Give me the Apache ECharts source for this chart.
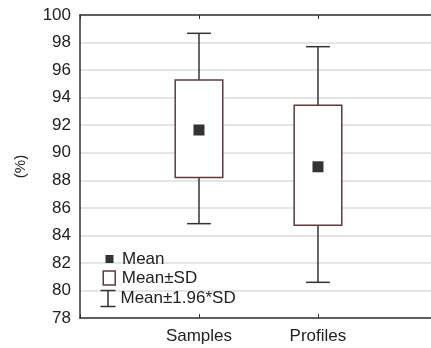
<!DOCTYPE html>
<html>
<head>
<meta charset="utf-8">
<script src="https://cdn.jsdelivr.net/npm/echarts@6/dist/echarts.min.js"></script>
<style>
  html, body { margin: 0; padding: 0; background: #fff; }
  #chart { width: 431px; height: 348px; }
</style>
</head>
<body>
<div id="chart"></div>
<script>
// Group names and their positions on the x axis
const categories = ['Samples', 'Profiles'];
const positions = [1, 2];

// Summary statistics (%)
const means      = [91.65, 88.98];
const sdLow      = [88.21, 84.73];
const sdHigh     = [95.28, 93.44];
const ciLow      = [84.85, 80.59];
const ciHigh     = [98.67, 97.70];

// Y-axis scale
const yMin = 78, yMax = 100, yStep = 2;

const FONT = 'Liberation Sans, Arial, sans-serif';
const TEXT = '#222';
const BOX_EDGE = '#5c3b3f';
const WHISKER = '#333';

const chart = echarts.init(document.getElementById('chart'), null, { renderer: 'canvas' });

const whiskerData = positions.map((p, i) => [p, ciLow[i], sdLow[i], sdHigh[i], ciHigh[i]]);
const boxData = positions.map((p, i) => [p, sdLow[i], sdHigh[i]]);
const meanData = positions.map((p, i) => [p, means[i]]);

const BOX_HALF = 0.2;   // half box width in x units
const CAP_HALF = 0.1;   // half whisker-cap width in x units
const X_MAX = 2.95;     // the frame runs on past the right edge of the canvas

const option = {
  animation: false,
  textStyle: { fontFamily: FONT },
  grid: { left: 80, top: 15, right: 0, height: 303, containLabel: false },
  xAxis: [
    {
      type: 'value', min: 0, max: X_MAX, interval: 1, position: 'bottom',
      axisLine: { lineStyle: { color: '#333', width: 1.5 } },
      axisTick: { inside: true, length: 4, lineStyle: { color: '#333' } },
      splitLine: { show: false },
      axisLabel: {
        margin: 10, fontSize: 17, color: TEXT, fontFamily: FONT,
        showMaxLabel: false,
        formatter: v => { const k = positions.indexOf(v); return k >= 0 ? categories[k] : ''; }
      }
    },
    {
      type: 'value', min: 0, max: X_MAX, interval: 1, position: 'top',
      axisLine: { lineStyle: { color: '#333', width: 1.5 } },
      axisTick: { inside: true, length: 4, lineStyle: { color: '#333' } },
      splitLine: { show: false },
      axisLabel: { show: false }
    }
  ],
  yAxis: {
    type: 'value', min: yMin, max: yMax, interval: yStep,
    name: '(%)', nameLocation: 'middle', nameGap: 52, nameRotate: 90,
    nameTextStyle: { fontSize: 15, color: TEXT, fontFamily: FONT },
    axisLine: { show: true, lineStyle: { color: '#333', width: 1.5 } },
    axisTick: { show: false },
    axisLabel: { margin: 9, fontSize: 17, color: TEXT, fontFamily: FONT },
    splitLine: { lineStyle: { color: '#dcdcdc', width: 1.5 } }
  },
  legend: [
    {
      data: ['Mean'], orient: 'vertical', left: 105.5, top: 250, padding: 0,
      itemWidth: 15, itemHeight: 8,
      icon: 'path://M0,0H10V10H0Z',
      itemStyle: { color: '#000', borderWidth: 0 },
      textStyle: { fontSize: 17, color: TEXT, fontFamily: FONT, lineHeight: 18 }
    },
    {
      data: ['Mean±SD'], orient: 'vertical', left: 102.5, top: 269, padding: 0,
      itemWidth: 15, itemHeight: 14,
      icon: 'path://M0,0H12V14H0Z',
      itemStyle: { color: '#fff', borderColor: BOX_EDGE, borderWidth: 1.5 },
      textStyle: { fontSize: 17, color: TEXT, fontFamily: FONT, lineHeight: 18 }
    },
    {
      data: ['Mean±1.96*SD'], orient: 'vertical', left: 98, top: 288, padding: 0,
      itemWidth: 15, itemHeight: 16,
      icon: 'path://M0,0H15M7.5,0V16M0,16H15',
      itemStyle: { color: 'none', borderColor: WHISKER, borderWidth: 1.5 },
      textStyle: { fontSize: 17, color: TEXT, fontFamily: FONT, lineHeight: 18 }
    }
  ],
  series: [
    {
      name: 'Mean±1.96*SD', type: 'custom', xAxisIndex: 0,
      itemStyle: { color: 'none', borderColor: WHISKER },
      encode: { x: 0, y: [1, 2, 3, 4] },
      data: whiskerData,
      renderItem: (params, api) => {
        const x = api.value(0);
        const pLow = api.coord([x, api.value(1)]);
        const pBoxLow = api.coord([x, api.value(2)]);
        const pBoxHigh = api.coord([x, api.value(3)]);
        const pHigh = api.coord([x, api.value(4)]);
        const capL = api.coord([x - CAP_HALF, 0])[0];
        const capR = api.coord([x + CAP_HALF, 0])[0];
        const style = { stroke: WHISKER, lineWidth: 1.5, fill: null };
        return {
          type: 'group',
          children: [
            { type: 'line', shape: { x1: pHigh[0], y1: pHigh[1], x2: pBoxHigh[0], y2: pBoxHigh[1] }, style },
            { type: 'line', shape: { x1: pLow[0], y1: pLow[1], x2: pBoxLow[0], y2: pBoxLow[1] }, style },
            { type: 'line', shape: { x1: capL, y1: pHigh[1], x2: capR, y2: pHigh[1] }, style },
            { type: 'line', shape: { x1: capL, y1: pLow[1], x2: capR, y2: pLow[1] }, style }
          ]
        };
      }
    },
    {
      name: 'Mean±SD', type: 'custom', xAxisIndex: 0,
      itemStyle: { color: '#fff', borderColor: BOX_EDGE },
      encode: { x: 0, y: [1, 2] },
      data: boxData,
      renderItem: (params, api) => {
        const x = api.value(0);
        const tl = api.coord([x - BOX_HALF, api.value(2)]);
        const br = api.coord([x + BOX_HALF, api.value(1)]);
        return {
          type: 'rect',
          shape: { x: tl[0], y: tl[1], width: br[0] - tl[0], height: br[1] - tl[1] },
          style: { fill: '#fff', stroke: BOX_EDGE, lineWidth: 1.5 }
        };
      }
    },
    {
      name: 'Mean', type: 'scatter', xAxisIndex: 0,
      symbol: 'rect', symbolSize: 11,
      itemStyle: { color: '#000' },
      data: meanData,
      z: 5
    }
  ]
};

chart.setOption(option);
</script>
</body>
</html>
